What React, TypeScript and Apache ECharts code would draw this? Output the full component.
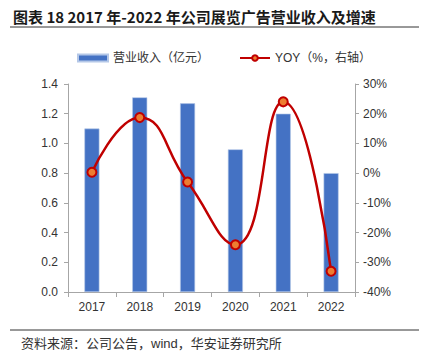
import React, { useEffect, useRef } from "react";
import * as echarts from "echarts";

const categories = ["2017", "2018", "2019", "2020", "2021", "2022"];
const revenue = [1.1, 1.31, 1.27, 0.96, 1.2, 0.8];
const yoy = [0.3, 18.7, -3.0, -24.1, 24.0, -33.0];
const titleText = "图表 18 2017 年-2022 年公司展览广告营业收入及增速";
const sourceText = "资料来源：公司公告，wind，华安证券研究所";
const revenueName = "营业收入（亿元）";
const yoyName = "YOY（%，右轴）";

const FONT = "'Liberation Sans', Arial, 'Noto Sans CJK SC', sans-serif";

export default function App() {
  const ref = useRef<HTMLDivElement>(null);
  useEffect(() => {
    if (!ref.current) return;
    const chart = echarts.init(ref.current, undefined, { renderer: "svg" });
    chart.setOption({
      animation: false,
      backgroundColor: "#ffffff",
      textStyle: { fontFamily: FONT },
      title: {
        text: titleText,
        left: 8,
        top: 4,
        textStyle: {
          fontFamily: "'Noto Sans CJK SC', sans-serif",
          fontWeight: "bold",
          fontSize: 15,
          color: "#1a1a1a",
        },
      },
      graphic: [
        {
          type: "line",
          shape: { x1: 10, y1: 27, x2: 427, y2: 27 },
          style: { stroke: "#333", lineWidth: 1 },
        },
        {
          type: "line",
          shape: { x1: 10, y1: 330, x2: 427, y2: 330 },
          style: { stroke: "#333", lineWidth: 1 },
        },
        {
          type: "text",
          x: 21,
          y: 343,
          style: {
            text: sourceText,
            font: "13px 'Liberation Sans', 'Noto Sans CJK SC', sans-serif",
            fill: "#333",
            verticalAlign: "middle",
          },
        },
      ],
      legend: {
        top: 47,
        left: 72,
        itemGap: 30,
        itemWidth: 30,
        itemHeight: 7,
        textStyle: {
          fontSize: 12,
          color: "#333",
          fontFamily: "'Liberation Sans', 'Noto Sans CJK SC', sans-serif",
        },
        data: [
          { name: revenueName, icon: "rect" },
          { name: yoyName },
        ],
      },
      grid: { left: 68, right: 72, top: 84, bottom: 70, containLabel: false },
      xAxis: {
        type: "category",
        data: categories,
        boundaryGap: true,
        axisLine: { lineStyle: { color: "#A6A6A6" } },
        axisTick: { show: true, alignWithLabel: false, length: 5, lineStyle: { color: "#A6A6A6" } },
        axisLabel: { color: "#333", fontSize: 12, margin: 9 },
      },
      yAxis: [
        {
          type: "value",
          min: 0,
          max: 1.4,
          interval: 0.2,
          axisLine: { show: true, lineStyle: { color: "#A6A6A6" } },
          axisTick: { show: true, length: 4, lineStyle: { color: "#A6A6A6" } },
          splitLine: { show: false },
          axisLabel: {
            color: "#333",
            fontSize: 12,
            margin: 10,
            formatter: (v: number) => v.toFixed(1),
          },
        },
        {
          type: "value",
          min: -40,
          max: 30,
          interval: 10,
          position: "right",
          axisLine: { show: true, lineStyle: { color: "#A6A6A6" } },
          axisTick: { show: true, length: 4, lineStyle: { color: "#A6A6A6" } },
          splitLine: { show: false },
          axisLabel: {
            color: "#333",
            fontSize: 12,
            margin: 8,
            formatter: (v: number) => `${v}%`,
          },
        },
      ],
      series: [
        {
          name: revenueName,
          type: "bar",
          data: revenue,
          yAxisIndex: 0,
          barWidth: 15,
          itemStyle: { color: "#4472C4", borderColor: "#B4C7E7", borderWidth: 0.6 },
        },
        {
          name: yoyName,
          type: "line",
          data: yoy,
          yAxisIndex: 1,
          smooth: 0.5,
          symbol: "circle",
          symbolSize: 9,
          lineStyle: { color: "#C00000", width: 2.5 },
          itemStyle: { color: "#ED7D31", borderColor: "#C00000", borderWidth: 2 },
        },
      ],
    });
    return () => chart.dispose();
  }, []);
  return <div ref={ref} style={{ width: 427, height: 362, margin: -8 }} />;
}
